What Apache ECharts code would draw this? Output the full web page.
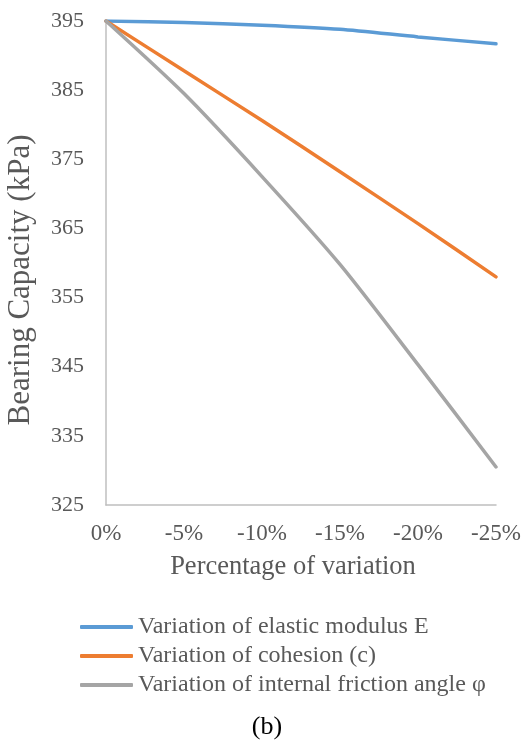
<!DOCTYPE html>
<html>
<head>
<meta charset="utf-8">
<script src="https://cdn.jsdelivr.net/npm/echarts@6/dist/echarts.min.js"></script>
<style>
  html, body { margin: 0; padding: 0; background: #fff; }
  #chart { width: 528px; height: 740px; }
</style>
</head>
<body>
<div id="chart"></div>
<script>
// Percentage change applied to each soil parameter
const categories = ['0%', '-5%', '-10%', '-15%', '-20%', '-25%'];

// Bearing capacity (kPa) for each parameter variation
const elasticModulus = [395, 394.8, 394.4, 393.8, 392.7, 391.7];
const cohesion = [395, 387.8, 380.6, 373.2, 365.7, 358.0];
const frictionAngle = [395, 384.5, 372.5, 359.8, 345.3, 330.5];

// Y-axis tick labels
const yTicks = [325, 335, 345, 355, 365, 375, 385, 395];

const seriesNames = [
  'Variation of elastic modulus E',
  'Variation of cohesion (c)',
  'Variation of internal friction angle \u03c6'
];
const colors = ['#5B9BD5', '#ED7D31', '#A5A5A5'];
const textColor = '#595959';
const font = '"Liberation Serif", "Times New Roman", serif';

const chart = echarts.init(document.getElementById('chart'), null, { renderer: 'canvas' });

function lineSeries(name, data, color) {
  return {
    name: name,
    type: 'line',
    data: data,
    smooth: 0.25,
    symbol: 'none',
    lineStyle: { color: color, width: 3.5, cap: 'round' },
    itemStyle: { color: color }
  };
}

chart.setOption({
  animation: false,
  backgroundColor: '#fff',
  textStyle: { fontFamily: font, color: textColor },
  grid: { left: 106, right: 32, top: 21, bottom: 235, containLabel: false },
  xAxis: {
    type: 'category',
    data: categories,
    boundaryGap: false,
    axisLine: { lineStyle: { color: '#BFBFBF', width: 1.5 } },
    axisTick: { show: false },
    axisLabel: { fontSize: 23, color: textColor, fontFamily: font, margin: 17 },
    splitLine: { show: false }
  },
  yAxis: {
    type: 'value',
    min: 325,
    max: 395,
    axisLine: { show: true, lineStyle: { color: '#BFBFBF', width: 1.5 } },
    axisTick: { show: false },
    axisLabel: { fontSize: 22, color: textColor, fontFamily: font, margin: 22, customValues: yTicks },
    splitLine: { show: false }
  },
  legend: {
    orient: 'vertical',
    left: 80,
    top: 615,
    padding: 0,
    itemWidth: 53,
    itemHeight: 4,
    itemGap: 5,
    icon: 'roundRect',
    textStyle: { fontSize: 24, lineHeight: 24, color: textColor, fontFamily: font },
    data: seriesNames
  },
  graphic: [
    {
      type: 'text',
      x: 21,
      y: 280,
      rotation: Math.PI / 2,
      style: {
        text: 'Bearing Capacity (kPa)',
        fontSize: 31,
        fontFamily: font,
        fill: textColor,
        align: 'center',
        verticalAlign: 'middle'
      }
    },
    {
      type: 'text',
      x: 293,
      y: 567,
      style: {
        text: 'Percentage of variation',
        fontSize: 26.5,
        fontFamily: font,
        fill: textColor,
        align: 'center',
        verticalAlign: 'middle'
      }
    },
    {
      type: 'text',
      x: 267,
      y: 727,
      style: {
        text: '(b)',
        fontSize: 26,
        fontFamily: font,
        fill: '#000',
        align: 'center',
        verticalAlign: 'middle'
      }
    }
  ],
  series: [
    lineSeries(seriesNames[0], elasticModulus, colors[0]),
    lineSeries(seriesNames[1], cohesion, colors[1]),
    lineSeries(seriesNames[2], frictionAngle, colors[2])
  ]
});
</script>
</body>
</html>
